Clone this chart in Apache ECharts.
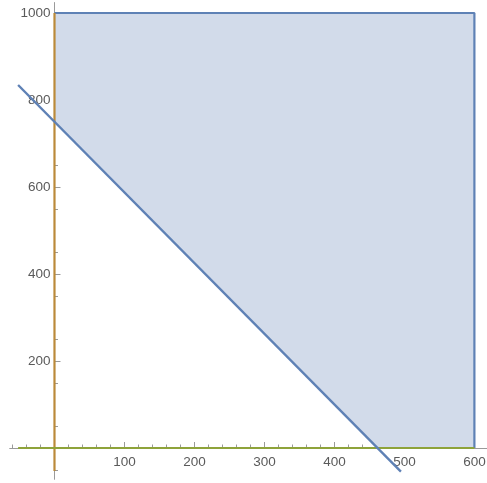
<!DOCTYPE html>
<html>
<head>
<meta charset="utf-8">
<script src="https://cdn.jsdelivr.net/npm/echarts@6/dist/echarts.min.js"></script>
<style>html,body{margin:0;padding:0;background:#fff}#c{width:487px;height:483px}</style>
</head>
<body>
<div id="c"></div>
<script>
// Tick values
const xMajorTicks = [100, 200, 300, 400, 500, 600];
const xMinorTicks = [-60, -40, -20, 20, 40, 60, 80, 120, 140, 160, 180, 220, 240, 260, 280, 320, 340, 360, 380, 420, 440, 460, 480, 520, 540, 560, 580];
const yMajorTicks = [200, 400, 600, 800, 1000];
const yMinorTicks = [-50, 50, 150, 250, 350, 450, 550, 650, 750, 850, 950];
// Feasible region vertices
const regionX = [0, 0, 600, 600, 461.5];
const regionY = [750, 1000, 1000, 0, 0];
// Boundary lines
const diagX = [-52, 495];
const diagY = [834.5, -54.4];
const boxX = [0, 600, 600];
const boxY = [1000, 1000, 0];
const vertX = [0, 0];
const vertY = [-53, 1000];
const horizX = [-52, 600];
const horizY = [0, 0];

const zip = (a, b) => a.map((v, i) => [v, b[i]]);
const grey = '#9a9a9a';
const labelStyle = { color: '#5a5a5a', fontSize: 13.5, fontFamily: 'Liberation Sans', formatter: v => String(v) };

const W = 487, H = 483;
const gLeft = 9.7, gRight = 0, gTop = 2.56, gHeight = 476.76;
const gWidth = W - gLeft - gRight;
const xMin = -64, xMax = 618, yMin = -72, yMax = 1024;
// offsets that move the axes onto the zero lines
const xAxisOffset = -gHeight * (0 - yMin) / (yMax - yMin);
const yAxisOffset = -gWidth * (0 - xMin) / (xMax - xMin);

const chart = echarts.init(document.getElementById('c'), null, { renderer: 'canvas' });
const xBase = { type: 'value', min: xMin, max: xMax, splitLine: { show: false }, gridIndex: 0, position: 'bottom', offset: xAxisOffset };
const yBase = { type: 'value', min: yMin, max: yMax, splitLine: { show: false }, gridIndex: 0, position: 'left', offset: yAxisOffset };
chart.setOption({
  animation: false,
  grid: { left: gLeft, right: gRight, top: gTop, height: gHeight, outerBoundsMode: 'none', containLabel: false },
  xAxis: [
    Object.assign({}, xBase, {
      axisLine: { show: true, onZero: false, lineStyle: { color: grey, width: 1 } },
      axisTick: { show: true, inside: true, length: 6, customValues: xMajorTicks, lineStyle: { color: grey } },
      axisLabel: { show: true, customValues: xMajorTicks, margin: 7, ...labelStyle }
    }),
    Object.assign({}, xBase, {
      axisLine: { show: true, onZero: false, lineStyle: { color: grey, opacity: 0 } },
      axisTick: { show: true, inside: true, length: 3.5, customValues: xMinorTicks, lineStyle: { color: grey } },
      axisLabel: { show: false }
    })
  ],
  yAxis: [
    Object.assign({}, yBase, {
      axisLine: { show: true, onZero: false, lineStyle: { color: grey, width: 1 } },
      axisTick: { show: true, inside: true, length: 6, customValues: yMajorTicks, lineStyle: { color: grey } },
      axisLabel: { show: true, customValues: yMajorTicks, margin: 4, ...labelStyle }
    }),
    Object.assign({}, yBase, {
      axisLine: { show: true, onZero: false, lineStyle: { color: grey, opacity: 0 } },
      axisTick: { show: true, inside: true, length: 3.5, customValues: yMinorTicks, lineStyle: { color: grey } },
      axisLabel: { show: false }
    })
  ],
  series: [
    {
      type: 'custom',
      xAxisIndex: 0, yAxisIndex: 0,
      data: [0],
      renderItem: function (params, api) {
        const pts = regionX.map((x, i) => api.coord([x, regionY[i]]));
        return { type: 'polygon', shape: { points: pts }, style: { fill: '#d2dbea', stroke: null } };
      },
      z: 1
    },
    {
      type: 'line', data: zip(boxX, boxY), symbol: 'none',
      lineStyle: { color: '#5e81b5', width: 2.2 }, z: 3
    },
    {
      type: 'line', data: zip(vertX, vertY), symbol: 'none',
      lineStyle: { color: '#bb8a3a', width: 2.2 }, z: 4
    },
    {
      type: 'line', data: zip(horizX, horizY), symbol: 'none',
      lineStyle: { color: '#8ea33a', width: 2.2 }, z: 4
    },
    {
      type: 'line', data: zip(diagX, diagY), symbol: 'none',
      lineStyle: { color: '#5e81b5', width: 2.4 }, z: 5
    }
  ]
});
</script>
</body>
</html>
